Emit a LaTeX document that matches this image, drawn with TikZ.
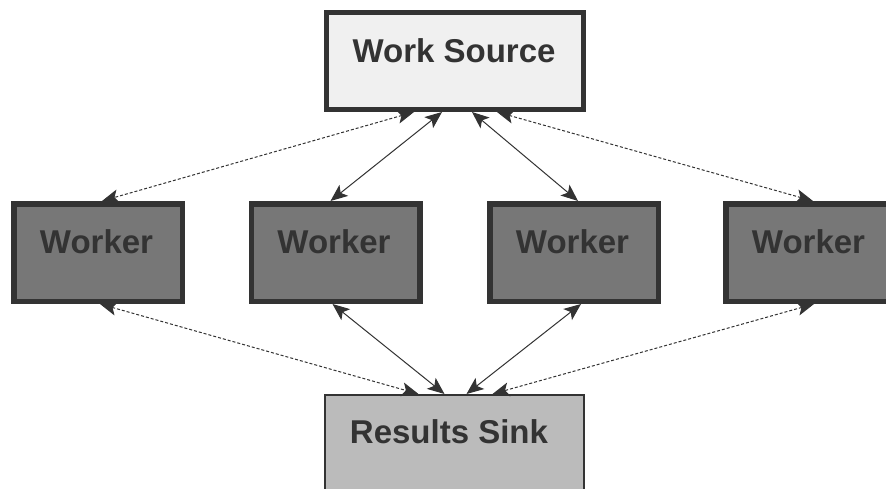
\documentclass[tikz,border=0pt]{standalone}
\usepackage{fontspec}
\setmainfont{Liberation Sans}
\usetikzlibrary{arrows.meta}
\definecolor{edge}{HTML}{333333}
\definecolor{srcfill}{HTML}{F0F0F0}
\definecolor{workfill}{HTML}{777777}
\definecolor{sinkfill}{HTML}{BBBBBB}
\tikzset{
  box/.style={draw=edge, rectangle, inner sep=0pt},
  srcbox/.style={box, line width=5pt, fill=srcfill, minimum width=257pt, minimum height=97pt},
  workbox/.style={box, line width=5.5pt, fill=workfill, minimum width=168.5pt, minimum height=97.5pt},
  sinkbox/.style={box, line width=2pt, fill=sinkfill, minimum width=259pt, minimum height=120pt},
  lbl/.style={anchor=base, inner sep=0pt, text=edge, font=\fontsize{33}{38}\selectfont\bfseries},
  link/.style={draw=edge, line width=1pt,
    {Stealth[length=17pt,width=14pt,inset=4pt,fill=edge]}-{Stealth[length=17pt,width=14pt,inset=4pt,fill=edge]}},
  dlink/.style={link, dash pattern=on 3pt off 2pt},
}
\begin{document}
\begin{tikzpicture}[x=1pt,y=-1pt]
\useasboundingbox (0,0) rectangle (886,488);
\clip (0,0) rectangle (886,488);
\fill[white] (0,0) rectangle (886,488);

% boxes
\node[srcbox]  (ws) at (455,61) {};
\node[workbox] (w1) at (98,252.5) {};
\node[workbox] (w2) at (335.5,252.5) {};
\node[workbox] (w3) at (574,252.5) {};
\node[workbox] (w4) at (810,252.5) {};
\node[sinkbox] (rs) at (454.5,455) {};

% labels
\node[lbl] (wsl) at (454,62) {Work Source};
\node[lbl] (w1l) at (96.5,253) {Worker};
\node[lbl] (w2l) at (334,253) {Worker};
\node[lbl] (w3l) at (572.5,253) {Worker};
\node[lbl] (w4l) at (808.5,253) {Worker};
\node[lbl] (rsl) at (449,443) {Results Sink};

% source <-> workers
\draw[dlink] ([xshift=-41pt]ws.south) -- ([xshift=4pt]w1.north);
\draw[link]  ([xshift=-13pt]ws.south) -- ([xshift=-5pt]w2.north);
\draw[link]  ([xshift=17pt]ws.south)  -- ([xshift=4pt]w3.north);
\draw[dlink] ([xshift=42pt]ws.south)  -- ([xshift=3pt]w4.north);

% workers <-> sink
\draw[dlink] ([xshift=2pt]w1.south)  -- ([xshift=-36pt]rs.north);
\draw[link]  ([xshift=-3pt]w2.south) -- ([xshift=-10pt]rs.north);
\draw[link]  ([xshift=7pt]w3.south)  -- ([xshift=12pt]rs.north);
\draw[dlink] ([xshift=4pt]w4.south)  -- ([xshift=38pt]rs.north);
\end{tikzpicture}
\end{document}
